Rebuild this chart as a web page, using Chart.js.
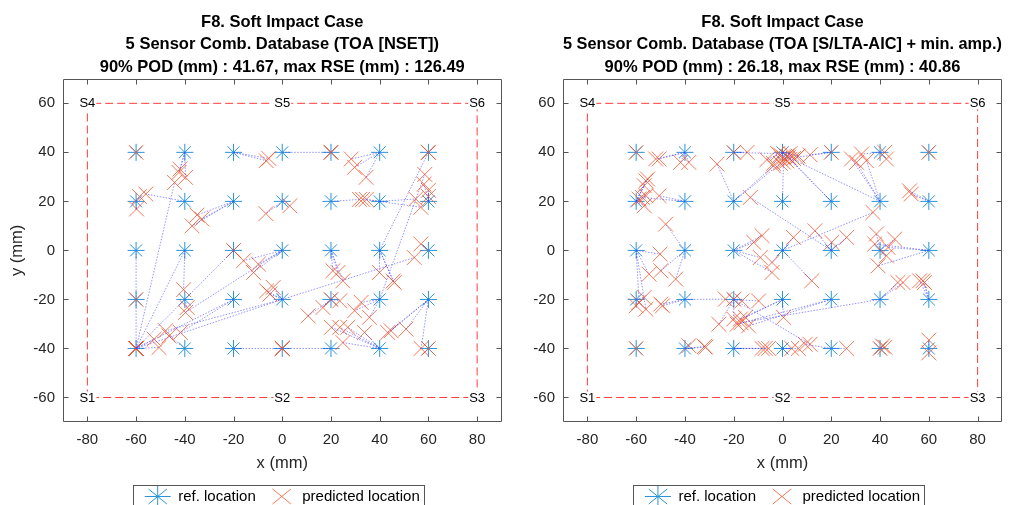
<!DOCTYPE html>
<html>
<head>
<meta charset="utf-8">
<script src="https://cdn.jsdelivr.net/npm/chart.js@4.4.1/dist/chart.umd.min.js"></script>
<style>
  html, body { margin: 0; padding: 0; background: #fff; overflow: hidden; }
  .panel { position: absolute; top: 0; }
  #leftPanel { left: 0; }
  #rightPanel { left: 500px; }
</style>
</head>
<body>
<div class="panel" id="leftPanel"><canvas id="nsetChart" width="513" height="520"></canvas></div>
<div class="panel" id="rightPanel"><canvas id="aicChart" width="526" height="520"></canvas></div>
<script>
// Axis ticks (mm)
const xTicks = [-80, -60, -40, -20, 0, 20, 40, 60, 80];
const yTicks = [-60, -40, -20, 0, 20, 40, 60];

// Impact grid on the plate
const refX = [-60, -40, -20, 0, 20, 40, 60];
const refY = [40, 20, 0, -20, -40];

// Sensors and plate outline
const sensorNames = ['S1', 'S2', 'S3', 'S4', 'S5', 'S6'];
const sensorX = [-80, 0, 80, -80, 0, 80];
const sensorY = [-60, -60, -60, 60, 60, 60];
const plateX = [-80, -80, 80, 80, -80];
const plateY = [-60, 60, 60, -60, -60];

const nsetTitle = [
    'F8. Soft Impact Case',
    '5 Sensor Comb. Database (TOA [NSET])',
    '90% POD (mm) : 41.67, max RSE (mm) : 126.49'
];
const aicTitle = [
    'F8. Soft Impact Case',
    '5 Sensor Comb. Database (TOA [S/LTA-AIC] + min. amp.)',
    '90% POD (mm) : 26.18, max RSE (mm) : 40.86'
];

// [ref x, ref y, predicted x, predicted y]
const nsetPairs = [
    [-60, 40, -60, 40], [-40, 40, -42.4, 31.8], [-40, 40, -42, 33.2], [-40, 40, -39.7, 29.8],
    [-20, 40, -6.6, 36.6], [-20, 40, -5.5, 37.5], [0, 40, 20, 40], [20, 40, 20, 40],
    [40, 40, 28.3, 37.3], [40, 40, 29.7, 33.9], [40, 40, 34.4, 29.8], [60, 40, 60, 40],
    [-60, 20, -58.6, 22], [-60, 20, -59.8, 16.9], [-40, 20, -56, 23],
    [-20, 20, -35, 14.4], [-20, 20, -37, 10], [-20, 20, -33, 12.8],
    [0, 20, -6.7, 15], [0, 20, 3.1, 18.2], [20, 20, 31.7, 20.8],
    [40, 20, 33, 20.8], [40, 20, 34.5, 20.8], [40, 20, 54.8, 21], [40, 20, 56.9, 17.6],
    [60, 20, 58.2, 27], [60, 20, 60, 24.5], [60, 20, 60, 22],
    [-60, 0, -60, -40], [-40, 0, -60, -40], [-40, 0, -40.5, -16],
    [-20, 0, -20, 0], [-20, 0, -60, -40],
    [0, 0, -15.9, -4.2], [0, 0, -9.8, -5.6], [0, 0, -11.8, -9], [0, 0, -39.7, -25.3],
    [20, 0, 20.8, -8.3], [20, 0, 22.9, -9], [20, 0, 24.9, -12.4],
    [40, 0, 60, 40], [40, 0, 39.9, -9], [40, 0, 46, -13.1], [40, 0, 45.5, -12.5],
    [60, 0, 56.9, 2.6],
    [-60, -20, -60, -20], [-40, -20, -39, -23.3], [-20, -20, -41.8, -33.5], [-20, -20, -60, -40],
    [0, -20, -6.4, -16.5], [0, -20, -3.7, -15.1], [0, -20, -5, -17.8],
    [0, -20, -47.9, -32.8], [0, -20, 54.2, -2.9], [0, -20, -60, -40],
    [20, -20, 20, -20], [20, -20, 23.6, -20.6], [20, -20, 16.7, -23.3], [20, -20, 10.6, -26.7],
    [40, -20, 29.7, -24.6], [40, -20, 32.4, -21.2], [40, -20, 35.8, -27.3], [40, -20, 58.5, 31],
    [60, -20, 43.3, -33.5], [60, -20, 44.7, -32.8], [60, -20, 50.8, -32.1], [60, -20, 57, -40],
    [-60, -40, -60, -40], [-60, -40, -52.6, -36.2], [-60, -40, -50.6, -39.6], [-60, -40, -44.2, 27.7],
    [-40, -40, -46.5, -34.9], [-20, -40, 0, -40], [0, -40, 0, -40], [20, -40, 0, -40],
    [40, -40, 24.9, -37.6], [40, -40, 20.2, -31.4], [40, -40, 23.6, -31.4],
    [40, -40, 26.9, -31.4], [40, -40, 33.8, -33.5], [60, -40, 60, -40]
];

const aicPairs = [
    [-60, 40, -60, 40], [-40, 40, -52, 37.3], [-40, 40, -50.6, 37.3], [-40, 40, -41.8, 35.9],
    [-40, 40, -38.4, 35.9], [-20, 40, -20, 40], [-20, 40, -14.5, 40], [-20, 40, -2, 39.5],
    [0, 40, -6.4, 37], [0, 40, -3.7, 35.5], [0, 40, -0.9, 39], [0, 40, 0.4, 38],
    [0, 40, 1.8, 36.5], [0, 40, 4.5, 37.5], [0, 40, 6.4, 38.5], [0, 40, 3.1, 39.5],
    [20, 40, 11.3, 39], [20, 40, 20, 40], [20, 40, 5.9, 38],
    [40, 40, 32.4, 39.3], [40, 40, 41.9, 40], [40, 40, 42.6, 37.3], [60, 40, 60, 40],
    [-60, 20, -56, 28.4], [-60, 20, -55.3, 29.1], [-60, 20, -56.7, 26.4], [-60, 20, -56, 22.3],
    [-60, 20, -56.7, 18.2], [-60, 20, -58.8, 20.9], [-40, 20, -57.4, 21.6], [-40, 20, -50.6, 22.3],
    [-20, 20, -26.8, 35.2], [-20, 20, -3.7, 34.5], [-20, 20, -0.9, 35.5], [0, 20, 0.4, 36],
    [20, 20, 1.8, 38.5], [20, 20, 3.1, 37.2], [40, 20, 2.5, 38],
    [40, 20, 28.3, 37.3], [40, 20, 30.4, 35.9], [40, 20, 34.4, 36.6],
    [60, 20, 52.1, 24.3], [60, 20, 52.8, 23],
    [-60, 0, -50.2, -1.5], [-60, 0, -54.7, -9.7], [-60, 0, -58.8, -21.2], [-60, 0, -56, -24],
    [-40, 0, -47.9, 10.7], [-40, 0, -49.9, -8.3], [-40, 0, -43.8, -11.7],
    [-20, 0, -11.8, 3.3], [-20, 0, -8.4, 6], [-20, 0, -9.1, -2.9], [-20, 0, -4.3, -9],
    [0, 0, 4.5, 5.3], [0, 0, 12, -12.4], [0, 0, 37.1, 15.5], [0, 0, -4.3, -4.9],
    [20, 0, 20.2, 3.3], [20, 0, 13.3, 8], [20, 0, 26.3, 5.3], [20, 0, -13.2, 21.6],
    [40, 0, 38.5, 6.7], [40, 0, 42.6, -2.2], [40, 0, 46, 4.6],
    [60, 0, 37.8, 2.6], [60, 0, 43.3, 1.2], [60, 0, 39.2, -6.3],
    [-60, -20, -60, -22.6], [-60, -20, -56.7, -19.2],
    [-40, -20, -49.9, -21.9], [-40, -20, -49.2, -22.6], [-40, -20, -23.4, -19.9],
    [-20, -20, -20, -19.9], [-20, -20, -16.6, -20.6], [-20, -20, -9.8, -20.6],
    [-20, -20, 11.3, -38.3], [-20, -20, -20, -28], [-20, -20, -26.1, -30.1],
    [0, -20, 0.4, -27.3], [0, -20, -17.3, -28], [0, -20, -15.2, -27.3],
    [20, -20, -18.6, -30.1], [20, -20, -13.9, -30.8],
    [40, -20, -17, -29.5], [40, -20, 47.3, -13.1], [40, -20, 49.4, -13.1],
    [60, -20, 56.2, -12.4], [60, -20, 57.6, -12.4], [60, -20, 58.2, -13.1],
    [-60, -40, -60, -40], [-40, -40, -38.4, -38.9], [-40, -40, -32, -39.2], [-40, -40, -31.5, -39.5],
    [-20, -40, -8.4, -40], [-20, -40, -7.1, -40], [-20, -40, -5.7, -40],
    [0, -40, 3.8, -40], [0, -40, 6.5, -40], [20, -40, 9.3, -38.3], [20, -40, 26.3, -40],
    [40, -40, 40, -40], [40, -40, 41, -39], [40, -40, 42, -39.5],
    [60, -40, 60, -36.6], [60, -40, 60, -41.8]
];

const FONT = "'Liberation Sans', Arial, Helvetica, sans-serif";
Chart.defaults.font.family = FONT;

// Inward tick marks on all four sides plus the closed axes box
const axesBox = {
    id: 'axesBox',
    afterDraw(chart) {
        const { ctx, chartArea: a, scales: { x, y } } = chart;
        const left = Math.round(a.left) + 0.5, right = Math.round(a.right) - 0.5;
        const top = Math.round(a.top) + 0.5, bottom = Math.round(a.bottom) - 0.5;
        ctx.save();
        ctx.setLineDash([]);
        ctx.strokeStyle = '#555555';
        ctx.lineWidth = 1;
        ctx.beginPath();
        xTicks.forEach(v => {
            const px = Math.round(x.getPixelForValue(v)) + 0.5;
            ctx.moveTo(px, bottom); ctx.lineTo(px, bottom - 5);
            ctx.moveTo(px, top); ctx.lineTo(px, top + 5);
        });
        yTicks.forEach(v => {
            const py = Math.round(y.getPixelForValue(v)) + 0.5;
            ctx.moveTo(left, py); ctx.lineTo(left + 5, py);
            ctx.moveTo(right, py); ctx.lineTo(right - 5, py);
        });
        ctx.rect(left, top, right - left, bottom - top);
        ctx.stroke();
        ctx.restore();
    }
};

// S1..S6 labels sitting on the plate outline
const sensorLabels = {
    id: 'sensorLabels',
    afterDatasetsDraw(chart) {
        const { ctx, scales: { x, y } } = chart;
        ctx.save();
        ctx.font = '13px ' + FONT;
        ctx.textAlign = 'center';
        ctx.textBaseline = 'middle';
        sensorNames.forEach((name, i) => {
            const px = x.getPixelForValue(sensorX[i]);
            const py = y.getPixelForValue(sensorY[i]);
            const w = ctx.measureText(name).width + 2;
            ctx.fillStyle = '#ffffff';
            ctx.fillRect(px - w / 2, py - 6, w, 12);
            ctx.fillStyle = '#000000';
            ctx.fillText(name, px, py + 0.5);
        });
        ctx.restore();
    }
};

// Thin frame around the legend entries
const legendFrame = {
    id: 'legendFrame',
    afterDraw(chart) {
        const boxes = chart.legend && chart.legend.legendHitBoxes;
        if (!boxes || !boxes.length) return;
        const first = boxes[0], last = boxes[boxes.length - 1];
        const cy = first.top + first.height / 2;
        const ctx = chart.ctx;
        ctx.save();
        ctx.setLineDash([]);
        ctx.strokeStyle = '#555555';
        ctx.lineWidth = 1;
        ctx.strokeRect(Math.round(first.left - 12) + 0.5, Math.round(cy - 12) + 0.5,
            Math.round(last.left + last.width + 16 - first.left), 24);
        ctx.restore();
    }
};

function setTicks(values) {
    return scale => { scale.ticks = values.map(v => ({ value: v })); };
}

function makeChart(canvasId, titleLines, pairs, showYTitle, padRight) {
    const refPoints = refY.flatMap(yv => refX.map(xv => ({ x: xv, y: yv })));
    const predicted = pairs.map(p => ({ x: p[2], y: p[3] }));
    const plate = plateX.map((xv, i) => ({ x: xv, y: plateY[i] }));

    // one dotted segment per impact, from its reference point to its prediction
    const links = pairs.map(p => ({
        label: 'link',
        data: [{ x: p[0], y: p[1] }, { x: p[2], y: p[3] }],
        showLine: true,
        pointRadius: 0,
        borderColor: 'rgba(60, 60, 255, 0.55)',
        backgroundColor: 'rgba(60, 60, 255, 0.55)',
        borderWidth: 1,
        borderDash: [1.5, 1.5],
        order: 1
    }));

    return new Chart(document.getElementById(canvasId).getContext('2d'), {
        type: 'scatter',
        data: {
            datasets: [
                {
                    label: 'ref. location',
                    data: refPoints,
                    pointStyle: 'star',
                    pointRadius: 8.5,
                    borderColor: '#2a93da',
                    backgroundColor: '#2a93da',
                    borderWidth: 1,
                    order: 3
                },
                {
                    label: 'predicted location',
                    data: predicted,
                    pointStyle: 'crossRot',
                    pointRadius: 10.5,
                    borderColor: 'rgba(242, 88, 48, 0.8)',
                    backgroundColor: 'rgba(242, 88, 48, 0.8)',
                    borderWidth: 1,
                    order: 2
                },
                {
                    label: 'plate',
                    data: plate,
                    showLine: true,
                    pointRadius: 0,
                    borderColor: '#ff3c3c',
                    backgroundColor: '#ff3c3c',
                    borderWidth: 1,
                    borderDash: [8, 4],
                    order: 4
                },
                ...links
            ]
        },
        options: {
            responsive: false,
            animation: false,
            events: [],
            layout: { padding: { left: 0, right: padRight, top: 0, bottom: 6 } },
            plugins: {
                tooltip: { enabled: false },
                title: {
                    display: true,
                    text: titleLines,
                    fullSize: false,
                    color: '#000000',
                    font: { size: 16.5, weight: 'bold', lineHeight: 1.37 },
                    padding: { top: 11, bottom: 0 }
                },
                legend: {
                    position: 'bottom',
                    fullSize: false,
                    labels: {
                        usePointStyle: true,
                        pointStyleWidth: 26,
                        color: '#000000',
                        font: { size: 15 },
                        padding: 13,
                        filter: item => item.datasetIndex < 2,
                        sort: (a, b) => a.datasetIndex - b.datasetIndex
                    }
                }
            },
            scales: {
                x: {
                    type: 'linear',
                    min: -90,
                    max: 90,
                    afterBuildTicks: setTicks(xTicks),
                    afterFit: scale => { scale.height = 54; },
                    grid: { display: false, drawTicks: false },
                    border: { display: false },
                    ticks: { color: '#262626', font: { size: 15 }, padding: 9, autoSkip: false, maxRotation: 0 },
                    title: {
                        display: true,
                        text: 'x (mm)',
                        color: '#262626',
                        font: { size: 16.5 },
                        padding: { top: 0, bottom: 3 }
                    }
                },
                y: {
                    type: 'linear',
                    min: -70,
                    max: 70,
                    afterBuildTicks: setTicks(yTicks),
                    afterFit: scale => { scale.width = 63; },
                    grid: { display: false, drawTicks: false },
                    border: { display: false },
                    ticks: { color: '#262626', font: { size: 15 }, padding: 8, autoSkip: false },
                    title: {
                        display: showYTitle,
                        text: 'y (mm)',
                        color: '#262626',
                        font: { size: 16.5 },
                        padding: { top: 8, bottom: 0 }
                    }
                }
            }
        },
        plugins: [axesBox, sensorLabels, legendFrame]
    });
}

makeChart('nsetChart', nsetTitle, nsetPairs, true, 11);
makeChart('aicChart', aicTitle, aicPairs, false, 24);
</script>
</body>
</html>
